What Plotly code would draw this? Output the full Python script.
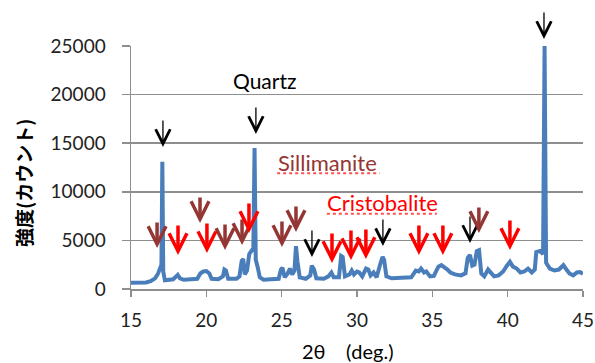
import plotly.graph_objects as go

# ---- data ----
two_theta = [15.0, 15.5, 16.0, 16.3, 16.6, 16.8, 16.95, 17.02, 17.08, 17.14, 17.25, 17.5, 17.8,
             18.0, 18.1, 18.25, 18.5, 19.0, 19.4, 19.6, 19.8, 20.0, 20.2, 20.35, 20.8, 21.1, 21.2,
             21.3, 21.45, 22.0, 22.2, 22.35, 22.45, 22.55, 22.7, 22.85, 23.0, 23.12, 23.2, 23.28,
             23.4, 23.55, 23.8, 24.5, 24.8, 24.95, 25.05, 25.2, 25.4, 25.55, 25.7, 25.85, 25.95,
             26.05, 26.2, 26.6, 26.9, 27.0, 27.15, 27.3, 27.8, 28.1, 28.3, 28.45, 28.8, 28.95,
             29.05, 29.2, 29.5, 29.65, 29.8, 30.0, 30.15, 30.35, 30.6, 30.75, 30.9, 31.1, 31.3,
             31.55, 31.7, 31.8, 31.95, 32.3, 33.0, 33.6, 33.9, 34.1, 34.25, 34.45, 34.6, 34.85,
             35.1, 35.4, 35.6, 35.85, 36.0, 36.2, 36.5, 36.9, 37.2, 37.35, 37.5, 37.65, 37.8,
             37.95, 38.1, 38.25, 38.45, 38.7, 38.85, 39.1, 39.4, 39.7, 39.95, 40.15, 40.35, 40.6,
             40.85, 41.1, 41.35, 41.6, 41.8, 41.9, 42.15, 42.35, 42.45, 42.55, 42.8, 43.1, 43.4,
             43.7, 43.9, 44.1, 44.35, 44.6, 44.8, 45.0]
intensity = [650, 650, 680, 800, 1100, 1600, 2200, 2500, 13100, 1800, 900, 950, 1000,
             1300, 1450, 1100, 950, 1000, 1050, 1600, 1800, 1850, 1600, 1050, 1000, 1300, 2000,
             1900, 1050, 1050, 1300, 2900, 3100, 1500, 1900, 3600, 4000, 4200, 14500, 3000,
             2300, 1200, 950, 950, 1050, 2000, 2200, 1200, 1600, 2100, 1500, 1900, 4400,
             2800, 1200, 1050, 1400, 2400, 2000, 1100, 1050, 1300, 1700, 1200, 1200, 3400,
             3300, 1300, 1500, 1900, 1500, 1800, 1700, 1300, 2100, 2000, 1400, 1700, 1200,
             2600, 3300, 3000, 1300, 1100, 1100, 1200, 1900, 1800, 2100, 1700, 1800, 1300,
             1350, 2300, 2450, 2200, 2000, 1700, 1500, 1400, 1600, 3200, 3500, 2400, 2500,
             3900, 4000, 1600, 1300, 2000, 1700, 1300, 1400, 1800, 2400, 2800, 2300, 2100,
             1700, 1800, 2100, 1700, 2000, 3800, 3900, 3600, 25000, 2700, 2100, 1900, 2000,
             2450, 2000, 1600, 1400, 1700, 1750, 1550]

# arrow tips (2θ, intensity)
quartz_x = [17.12, 23.29, 42.41, 27.01, 31.72, 37.5]
quartz_tip = [14610, 15950, 25720, 3290, 4420, 4730]
sill_x = [16.73, 19.58, 21.24, 22.37, 25.02, 25.95, 38.09]
sill_tip = [4220, 6790, 4010, 4530, 4320, 5870, 5760]
cris_x = [18.12, 20.04, 22.83, 28.34, 29.6, 30.59, 34.11, 35.7, 40.15]
cris_tip = [3500, 3700, 5760, 2680, 2980, 3090, 3500, 3500, 4010]

x_ticks = [15, 20, 25, 30, 35, 40, 45]
y_ticks = [0, 5000, 10000, 15000, 20000, 25000]
YMAX = 25000

LINE = "#4A7EBB"
GRID = "#8e8e8e"
DARKRED = "#943634"
RED = "#FF0000"
FONT = "Lato, 'Noto Sans', sans-serif"

fig = go.Figure()
fig.add_trace(go.Scatter(x=two_theta, y=intensity, mode="lines",
                         line=dict(color=LINE, width=4), hoverinfo="skip"))

annotations = []

def add_arrows(xs, tips, color, width, size, length):
    for xv, tv in zip(xs, tips):
        annotations.append(dict(x=xv, y=tv / YMAX, xref="x", yref="paper", text="",
                                showarrow=True, arrowhead=5, arrowsize=size, arrowwidth=width,
                                arrowcolor=color, ax=0, ay=-length, standoff=0))

add_arrows(quartz_x, quartz_tip, "#000000", 1.3, 2.2, 28)
add_arrows(sill_x, sill_tip, DARKRED, 3.5, 1.0, 27)
add_arrows(cris_x, cris_tip, RED, 3.5, 1.0, 31)

annotations += [
    dict(x=23.83, y=21500, xref="x", yref="y", text="Quartz", showarrow=False,
         font=dict(family=FONT, size=21, color="#000000")),
    dict(x=28.07, y=12970, xref="x", yref="y", text="Sillimanite", showarrow=False,
         font=dict(family=FONT, size=22, color=DARKRED)),
    dict(x=31.66, y=8850, xref="x", yref="y", text="Cristobalite", showarrow=False,
         font=dict(family=FONT, size=22, color=RED)),
    dict(x=0, y=0.436, xref="paper", yref="paper", text="<b>強度(カウント)</b>",
         textangle=-90, showarrow=False, xshift=-108, xanchor="center", yanchor="middle",
         font=dict(family="'Noto Sans CJK JP'", size=19, color="#000000")),
    dict(x=0.481, y=0, xref="paper", yref="paper", text="2θ    (deg.)", showarrow=False,
         yshift=-62, xanchor="center", yanchor="middle",
         font=dict(family=FONT, size=20, color="#000000")),
]

shapes = [
    dict(type="line", xref="x", yref="y", x0=24.7, x1=31.5, y0=11900, y1=11900,
         line=dict(color="#ff5050", width=2, dash="dot")),
    dict(type="line", xref="x", yref="y", x0=28.0, x1=35.3, y0=7750, y1=7750,
         line=dict(color="#ff5050", width=2, dash="dot")),
]

fig.update_layout(
    width=595, height=363, autosize=False,
    margin=dict(l=131, r=12, t=46, b=74),
    paper_bgcolor="white", plot_bgcolor="white",
    showlegend=False,
    annotations=annotations, shapes=shapes,
    font=dict(family=FONT, size=19, color="#222222"),
)
fig.update_xaxes(range=[15, 45], tickvals=x_ticks, ticktext=[str(v) for v in x_ticks],
                 showgrid=False, showline=True, linecolor=GRID, linewidth=1.5,
                 ticks="outside", ticklen=6, tickcolor=GRID, tickwidth=1.5,
                 ticklabelstandoff=8, zeroline=False, automargin=False,
                 tickfont=dict(family=FONT, size=19, color="#222222"))
fig.update_yaxes(range=[0, YMAX], tickvals=y_ticks, ticktext=[str(v) for v in y_ticks],
                 showgrid=True, gridcolor=GRID, gridwidth=1.5,
                 showline=True, linecolor=GRID, linewidth=1.5,
                 ticks="outside", ticklen=8, tickcolor=GRID, tickwidth=1.5,
                 ticklabelstandoff=12, zeroline=False, automargin=False,
                 tickfont=dict(family=FONT, size=19, color="#222222"))

fig.write_html("out.html",
               config={"responsive": False, "displayModeBar": False, "staticPlot": True},
               default_width="595px", default_height="363px",
               post_script="document.body.style.margin='0';document.body.style.overflow='hidden';")
